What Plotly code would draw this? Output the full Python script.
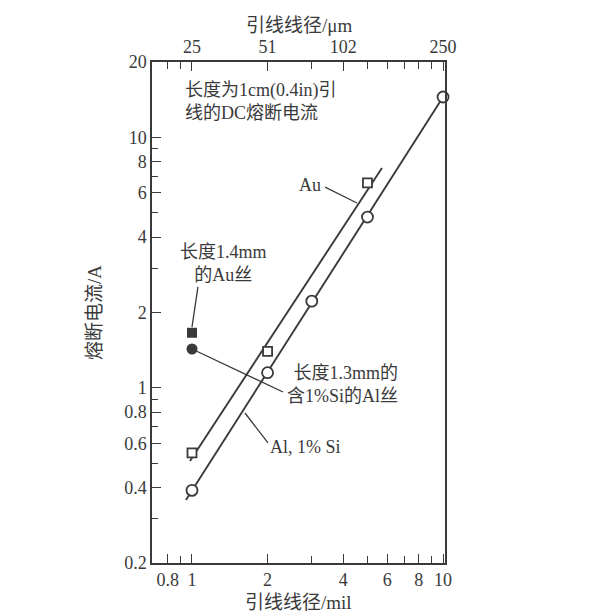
import plotly.graph_objects as go
import math

# ---- data ----
au_x = [1, 2, 5]
au_y = [0.55, 1.40, 6.58]
al_x = [1, 2, 3, 5, 10]
al_y = [0.39, 1.15, 2.22, 4.81, 14.5]
au_fit_x = [0.982, 5.71]
au_fit_y = [0.511, 7.55]
al_fit_x = [0.946, 10]
al_fit_y = [0.357, 14.5]
au_short_x = [1]
au_short_y = [1.66]
al_short_x = [1]
al_short_y = [1.43]

x_major = [0.8, 1, 2, 4, 6, 8, 10]
x_major_text = ["0.8", "1", "2", "4", "6", "8", "10"]
x_minor = [0.9, 3, 5, 7, 9]
top_major = [1, 2, 4, 10]
top_text = ["25", "51", "102", "250"]
top_minor = [0.8, 0.9, 3, 5, 6, 7, 8, 9]
y_major = [0.2, 0.4, 0.6, 0.8, 1, 2, 4, 6, 8, 10, 20]
y_major_text = ["0.2", "0.4", "0.6", "0.8", "1", "2", "4", "6", "8", "10", "20"]
y_minor = [0.3, 0.5, 0.7, 0.9, 3, 5, 7, 9]

INK = "#3a3a3a"
FONT = "Liberation Serif, Noto Sans CJK SC, serif"
FS = 18
FT = 19

xr = [math.log10(0.693), math.log10(10.18)]
yr = [math.log10(0.2), math.log10(20)]

fig = go.Figure()
fig.add_trace(go.Scatter(x=au_fit_x, y=au_fit_y, mode="lines",
                         line=dict(color=INK, width=1.9), hoverinfo="skip"))
fig.add_trace(go.Scatter(x=al_fit_x, y=al_fit_y, mode="lines",
                         line=dict(color=INK, width=1.9), hoverinfo="skip"))
fig.add_trace(go.Scatter(x=au_x, y=au_y, mode="markers", cliponaxis=False,
                         marker=dict(symbol="square", size=9, color="white",
                                     line=dict(color=INK, width=1.8))))
fig.add_trace(go.Scatter(x=al_x, y=al_y, mode="markers", cliponaxis=False,
                         marker=dict(symbol="circle", size=11, color="white",
                                     line=dict(color=INK, width=1.8))))
fig.add_trace(go.Scatter(x=au_short_x, y=au_short_y, mode="markers",
                         marker=dict(symbol="square", size=10, color=INK)))
fig.add_trace(go.Scatter(x=al_short_x, y=al_short_y, mode="markers",
                         marker=dict(symbol="circle", size=11, color=INK)))
# invisible trace for the top axis
fig.add_trace(go.Scatter(x=[1, 10], y=[1, 1], xaxis="x2", mode="markers",
                         marker=dict(opacity=0), hoverinfo="skip"))

axis_common = dict(type="log", showgrid=False, zeroline=False, showline=True,
                   linecolor=INK, linewidth=1.5, ticks="inside", tickcolor=INK,
                   tickwidth=1.3, ticklen=9, automargin=False,
                   tickfont=dict(family=FONT, size=FS, color=INK))

fig.update_layout(
    width=609, height=615,
    margin=dict(l=144, r=172, t=54, b=60),
    paper_bgcolor="white", plot_bgcolor="white",
    showlegend=False,
    xaxis=dict(**axis_common, range=xr, tickmode="array", tickvals=x_major,
               ticktext=x_major_text,
               minor=dict(tickmode="array", tickvals=x_minor, ticks="inside",
                          ticklen=7, tickcolor=INK, tickwidth=1.3)),
    xaxis2=dict(**axis_common, range=xr, overlaying="x", side="top",
                tickmode="array", tickvals=top_major, ticktext=top_text,
                minor=dict(tickmode="array", tickvals=top_minor, ticks="inside",
                           ticklen=7, tickcolor=INK, tickwidth=1.3)),
    yaxis=dict(**axis_common, range=yr, mirror=True, tickmode="array",
               tickvals=y_major, ticktext=y_major_text,
               minor=dict(tickmode="array", tickvals=y_minor, ticks="inside",
                          ticklen=6, tickcolor=INK, tickwidth=1.3),
               title=dict(text="熔断电流/A", standoff=18,
                          font=dict(family=FONT, size=FT, color=INK))),
)

ft = dict(family=FONT, size=FT, color=INK)
fig.add_annotation(xref="paper", yref="paper", x=0.5, y=1, yanchor="middle",
                   yshift=37, text="引线线径/μm", showarrow=False, font=ft)
fig.add_annotation(xref="paper", yref="paper", x=0.5, y=0, yanchor="middle",
                   yshift=-39, text="引线线径/mil", showarrow=False, font=ft)

tf = dict(family=FONT, size=FS, color=INK)
L = math.log10
fig.add_annotation(x=L(0.921), y=L(13.85), text="长度为1cm(0.4in)引<br>线的DC熔断电流",
                   showarrow=False, xanchor="left", align="left", font=tf)
fig.add_annotation(x=L(3.33), y=L(6.46), text="Au", showarrow=False,
                   xanchor="right", font=tf)
fig.add_annotation(x=L(1.329), y=L(3.15), text="长度1.4mm<br>的Au丝",
                   showarrow=False, align="center", font=tf)
fig.add_annotation(x=L(3.96), y=L(1.03), text="长度1.3mm的<br>含1%Si的Al丝",
                   showarrow=False, align="right", font=tf)
fig.add_annotation(x=L(2.0), y=L(0.58), text="Al, 1% Si", showarrow=False,
                   xanchor="left", font=tf)

line_style = dict(color=INK, width=1.3)
fig.add_shape(type="line", x0=3.39, y0=6.33, x1=4.54, y1=5.47, line=line_style)
fig.add_shape(type="line", x0=1.056, y0=2.53, x1=1.0, y1=1.75, line=line_style)
fig.add_shape(type="line", x0=1.0, y0=1.43, x1=2.304, y1=0.963, line=line_style)
fig.add_shape(type="line", x0=1.626, y0=0.794, x1=2.008, y1=0.603, line=line_style)

fig.write_html("out.html")
